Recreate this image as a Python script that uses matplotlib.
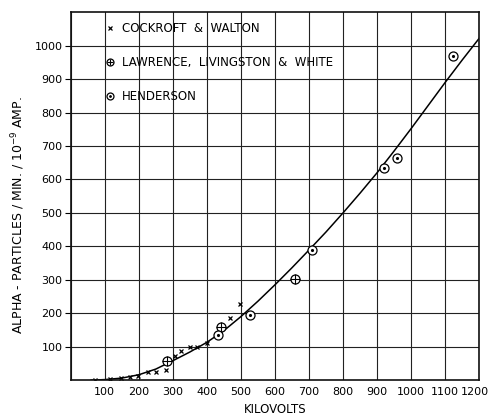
import numpy as np
import matplotlib
matplotlib.use("Agg")
import matplotlib.pyplot as plt
import matplotlib.transforms as mtransforms

# Cockroft & Walton (x)
cw_kv = [71, 116, 147, 174, 199, 228, 251, 280, 305, 324, 349, 372, 400, 469, 498]
cw_alpha = [1, 2, 5, 10, 13, 23, 23, 31, 72, 86, 100, 98, 112, 187, 229]

# Lawrence, Livingston & White (circle with plus)
llw_kv = [284, 442, 658]
llw_alpha = [58, 160, 303]

# Henderson (circle with dot)
hend_kv = [434, 527, 709, 920, 959, 1122]
hend_alpha = [134, 196, 390, 633, 663, 970]

# smooth curve
curve_kv = [60, 100, 150, 200, 250, 300, 350, 400, 450, 500, 550, 600, 650, 700,
            750, 800, 850, 900, 950, 1000, 1050, 1100, 1150, 1200, 1215]
curve_alpha = [0, 1.5, 6, 16, 33, 58, 84, 113, 148, 190, 236, 285, 336, 389,
               443, 500, 559, 620, 685, 752, 821, 890, 957, 1022, 1042]

x_ticks = list(range(100, 1201, 100))
y_ticks = list(range(100, 1001, 100))

plt.rcParams['font.family'] = ['DejaVu Sans']

fig = plt.figure(figsize=(4.88, 4.20), dpi=100)
ax = fig.add_axes([0.145, 0.095, 0.837, 0.876])

ax.set_xlim(0, 1200)
ax.set_ylim(0, 1100)

ax.set_xticks(range(0, 1201, 100))
ax.set_xticklabels([''] + [str(v) for v in x_ticks])
ax.set_yticks(y_ticks)
ax.grid(True, color='#222222', linewidth=0.8)
ax.set_axisbelow(True)
ax.tick_params(axis='x', length=0, pad=5, labelsize=8)
ax.tick_params(axis='y', length=4, width=0.8, pad=2, labelsize=8)
for s in ax.spines.values():
    s.set_linewidth(1.2)
    s.set_color('#111111')

# nudge the last x label so it stays inside the figure
last = ax.get_xticklabels()[-1]
last.set_transform(last.get_transform() +
                   mtransforms.ScaledTranslation(-4 / 100, 0, fig.dpi_scale_trans))

ax.plot(curve_kv, curve_alpha, color='black', linewidth=1.1, clip_on=True)

ax.plot(cw_kv, cw_alpha, linestyle='none', marker='x', markersize=3.2,
        markeredgewidth=0.9, color='black')

ax.plot(llw_kv, llw_alpha, linestyle='none', marker='o', markersize=6.5,
        markerfacecolor='white', markeredgecolor='black', markeredgewidth=0.9)
ax.plot(llw_kv, llw_alpha, linestyle='none', marker='+', markersize=6.5,
        markeredgewidth=0.8, color='black')

ax.plot(hend_kv, hend_alpha, linestyle='none', marker='o', markersize=6.5,
        markerfacecolor='white', markeredgecolor='black', markeredgewidth=0.9)
ax.plot(hend_kv, hend_alpha, linestyle='none', marker='.', markersize=2.5,
        color='black')

# legend written on the grid
leg_x = 115
ax.plot([leg_x], [1052], marker='x', markersize=3.2, markeredgewidth=0.9, color='black')
ax.text(150, 1052, 'COCKROFT  &  WALTON', va='center', ha='left', fontsize=8.5)
ax.plot([leg_x], [950], marker='o', markersize=5, markerfacecolor='white',
        markeredgecolor='black', markeredgewidth=0.9)
ax.plot([leg_x], [950], marker='+', markersize=5, markeredgewidth=0.8, color='black')
ax.text(150, 950, 'LAWRENCE,  LIVINGSTON  &  WHITE', va='center', ha='left', fontsize=8.5)
ax.plot([leg_x], [849], marker='o', markersize=5, markerfacecolor='white',
        markeredgecolor='black', markeredgewidth=0.9)
ax.plot([leg_x], [849], marker='.', markersize=2, color='black')
ax.text(150, 849, 'HENDERSON', va='center', ha='left', fontsize=8.5)

ax.set_xlabel('KILOVOLTS', fontsize=8.5, labelpad=4)
ax.set_ylabel(r'ALPHA - PARTICLES / MIN. / $\mathregular{10^{-9}}$ AMP.',
              fontsize=9)
ax.yaxis.set_label_coords(-0.108, 0.45)

fig.savefig('out.png', dpi=100)
